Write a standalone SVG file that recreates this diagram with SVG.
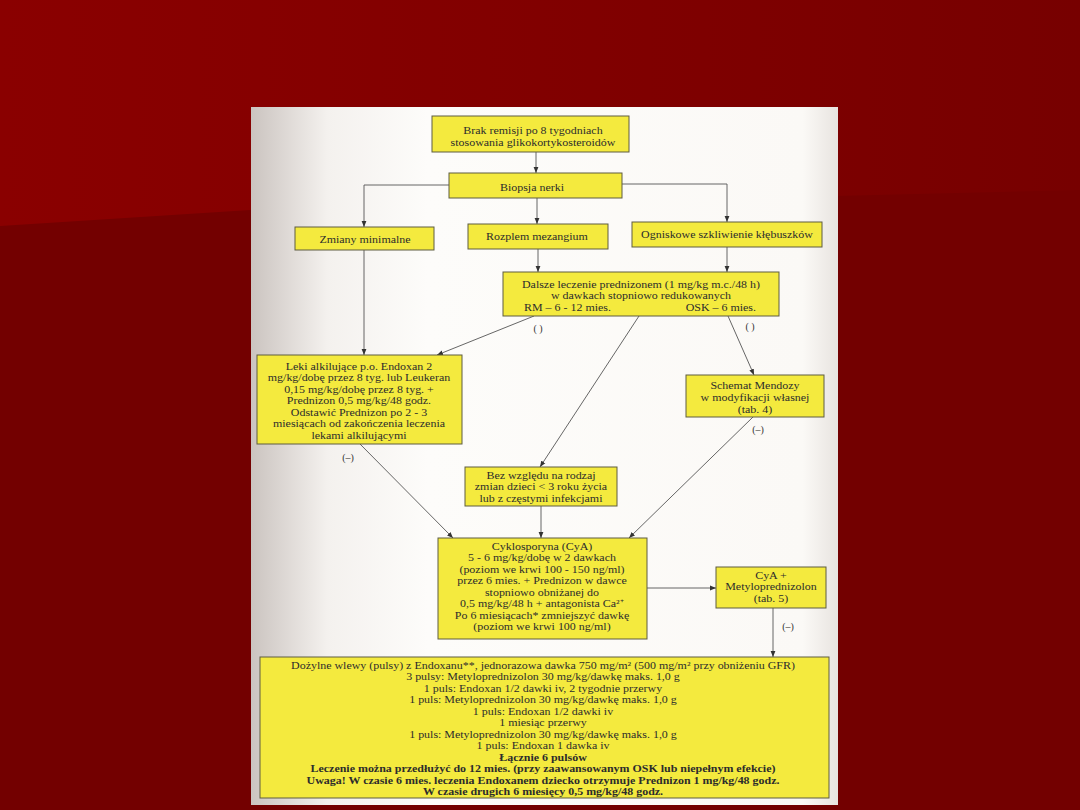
<svg xmlns="http://www.w3.org/2000/svg" width="1080" height="810" viewBox="0 0 1080 810">
<defs>
<linearGradient id="page" x1="0" y1="0" x2="1" y2="0">
<stop offset="0" stop-color="#cbc4c0"/>
<stop offset="0.13" stop-color="#f4f1ee"/>
<stop offset="0.3" stop-color="#fdfcfa"/>
<stop offset="0.94" stop-color="#fbf9f6"/>
<stop offset="1" stop-color="#e8e4e0"/>
</linearGradient>
<linearGradient id="bgtop" x1="0" y1="0" x2="1" y2="0">
<stop offset="0" stop-color="#8a0000"/>
<stop offset="0.3" stop-color="#850000"/>
<stop offset="1" stop-color="#770000"/>
</linearGradient>
<marker id="ah" viewBox="0 0 10 10" refX="10" refY="5" markerWidth="6" markerHeight="6" orient="auto" markerUnits="userSpaceOnUse">
<path d="M0,1 L10,5 L0,9 Z" fill="#333"/>
</marker>
<style>
.box{fill:#f4ea3e;stroke:#5e5c40;stroke-width:1}
.t{font-family:"Liberation Serif","Times New Roman",serif;font-size:10.4px;fill:#2c2c2c;text-anchor:middle}
.b{font-weight:bold}
.ca{fill:none;stroke:#555;stroke-width:0.9;marker-end:url(#ah)}
.lbl{font-family:"Liberation Serif","Times New Roman",serif;font-size:10px;fill:#333;text-anchor:middle}
</style>
</defs>
<rect width="1080" height="810" fill="#730000"/>
<polygon points="0,0 1080,0 1080,190 250,210 0,226" fill="url(#bgtop)"/>
<rect x="251" y="107" width="587" height="698" fill="url(#page)"/>

<g id="connectors">
<line class="ca" x1="536" y1="152" x2="536" y2="173"/>
<polyline class="ca" points="449,185 364,185 364,227"/>
<line class="ca" x1="537" y1="198" x2="537" y2="224"/>
<polyline class="ca" points="622,184 727,184 727,222"/>
<line class="ca" x1="364" y1="250" x2="364" y2="355"/>
<line class="ca" x1="538" y1="249" x2="538" y2="272"/>
<line class="ca" x1="727" y1="247" x2="727" y2="272"/>
<line class="ca" x1="534" y1="316" x2="437" y2="355"/>
<line class="ca" x1="639" y1="316" x2="540" y2="467"/>
<line class="ca" x1="728" y1="316" x2="754" y2="375"/>
<line class="ca" x1="360" y1="444" x2="453" y2="538"/>
<line class="ca" x1="753" y1="417" x2="629" y2="538"/>
<line class="ca" x1="541" y1="506" x2="541" y2="538"/>
<line class="ca" x1="647" y1="588" x2="716" y2="588"/>
<line class="ca" x1="773" y1="608" x2="773" y2="657"/>
<text class="lbl" x="538" y="332">( )</text>
<text class="lbl" x="750" y="330">( )</text>
<text class="lbl" x="348" y="461">(–)</text>
<text class="lbl" x="758" y="433">(–)</text>
<text class="lbl" x="788" y="630">(–)</text>
</g>

<g id="brak">
<rect class="box" x="432" y="116" width="197" height="36"/>
<g transform="translate(533 0) scale(1.15 1) translate(-533 0)">
<text class="t" x="533" y="134">Brak remisji po 8 tygodniach</text>
<text class="t" x="533" y="146">stosowania glikokortykosteroidów</text>
</g>
</g>
<g id="biopsja">
<rect class="box" x="449" y="173" width="173" height="25"/>
<g transform="translate(532 0) scale(1.15 1) translate(-532 0)">
<text class="t" x="532" y="191">Biopsja nerki</text>
</g>
</g>
<g id="zmiany">
<rect class="box" x="295" y="227" width="139" height="23"/>
<g transform="translate(365 0) scale(1.15 1) translate(-365 0)">
<text class="t" x="365" y="243">Zmiany minimalne</text>
</g>
</g>
<g id="rozplem">
<rect class="box" x="468" y="224" width="140" height="25"/>
<g transform="translate(537 0) scale(1.15 1) translate(-537 0)">
<text class="t" x="537" y="240">Rozplem mezangium</text>
</g>
</g>
<g id="ogniskowe">
<rect class="box" x="632" y="222" width="190" height="25"/>
<g transform="translate(727 0) scale(1.15 1) translate(-727 0)">
<text class="t" x="727" y="238">Ogniskowe szkliwienie kłębuszków</text>
</g>
</g>
<g id="dalsze">
<rect class="box" x="503" y="272" width="276" height="44"/>
<g transform="translate(641 0) scale(1.15 1) translate(-641 0)">
<text class="t" x="641" y="288">Dalsze leczenie prednizonem (1 mg/kg m.c./48 h)</text>
<text class="t" x="641" y="299.5">w dawkach stopniowo redukowanych</text>
<text class="t" x="539.3" y="311" style="text-anchor:start">RM – 6 - 12 mies.</text>
<text class="t" x="741" y="311" style="text-anchor:end">OSK – 6 mies.</text>
</g>
</g>
<g id="leki">
<rect class="box" x="257" y="355" width="205" height="89"/>
<g transform="translate(359 0) scale(1.15 1) translate(-359 0)">
<text class="t" x="359" y="370">Leki alkilujące p.o. Endoxan 2</text>
<text class="t" x="359" y="381.5">mg/kg/dobę przez 8 tyg. lub Leukeran</text>
<text class="t" x="359" y="393">0,15 mg/kg/dobę przez 8 tyg. +</text>
<text class="t" x="359" y="404.5">Prednizon 0,5 mg/kg/48 godz.</text>
<text class="t" x="359" y="416">Odstawić Prednizon po 2 - 3</text>
<text class="t" x="359" y="427.5">miesiącach od zakończenia leczenia</text>
<text class="t" x="359" y="439">lekami alkilującymi</text>
</g>
</g>
<g id="schemat">
<rect class="box" x="686" y="375" width="138" height="42"/>
<g transform="translate(755 0) scale(1.15 1) translate(-755 0)">
<text class="t" x="755" y="389">Schemat Mendozy</text>
<text class="t" x="755" y="401">w modyfikacji własnej</text>
<text class="t" x="755" y="413">(tab. 4)</text>
</g>
</g>
<g id="bez">
<rect class="box" x="465" y="467" width="152" height="39"/>
<g transform="translate(541 0) scale(1.15 1) translate(-541 0)">
<text class="t" x="541" y="479">Bez względu na rodzaj</text>
<text class="t" x="541" y="490.5">zmian dzieci &lt; 3 roku życia</text>
<text class="t" x="541" y="502">lub z częstymi infekcjami</text>
</g>
</g>
<g id="cyklosporyna">
<rect class="box" x="438" y="538" width="209" height="101"/>
<g transform="translate(542 0) scale(1.15 1) translate(-542 0)">
<text class="t" x="542" y="550">Cyklosporyna (CyA)</text>
<text class="t" x="542" y="561.5">5 - 6 mg/kg/dobę w 2 dawkach</text>
<text class="t" x="542" y="573">(poziom we krwi 100 - 150 ng/ml)</text>
<text class="t" x="542" y="584.5">przez 6 mies. + Prednizon w dawce</text>
<text class="t" x="542" y="596">stopniowo obniżanej do</text>
<text class="t" x="542" y="607.5">0,5 mg/kg/48 h + antagonista Ca²⁺</text>
<text class="t" x="542" y="619">Po 6 miesiącach* zmniejszyć dawkę</text>
<text class="t" x="542" y="630.5">(poziom we krwi 100 ng/ml)</text>
</g>
</g>
<g id="cya">
<rect class="box" x="716" y="567" width="110" height="41"/>
<g transform="translate(771 0) scale(1.15 1) translate(-771 0)">
<text class="t" x="771" y="579">CyA +</text>
<text class="t" x="771" y="590.5">Metyloprednizolon</text>
<text class="t" x="771" y="602">(tab. 5)</text>
</g>
</g>
<g id="dozylne">
<rect class="box" x="260" y="657" width="569" height="141"/>
<g transform="translate(543 0) scale(1.15 1) translate(-543 0)">
<text class="t" x="543" y="669">Dożylne wlewy (pulsy) z Endoxanu**, jednorazowa dawka 750 mg/m² (500 mg/m² przy obniżeniu GFR)</text>
<text class="t" x="543" y="680.5">3 pulsy: Metyloprednizolon 30 mg/kg/dawkę maks. 1,0 g</text>
<text class="t" x="543" y="692">1 puls: Endoxan 1/2 dawki iv, 2 tygodnie przerwy</text>
<text class="t" x="543" y="703.5">1 puls: Metyloprednizolon 30 mg/kg/dawkę maks. 1,0 g</text>
<text class="t" x="543" y="715">1 puls: Endoxan 1/2 dawki iv</text>
<text class="t" x="543" y="726.5">1 miesiąc przerwy</text>
<text class="t" x="543" y="738">1 puls: Metyloprednizolon 30 mg/kg/dawkę maks. 1,0 g</text>
<text class="t" x="543" y="749.5">1 puls: Endoxan 1 dawka iv</text>
<text class="t b" x="543" y="761">Łącznie 6 pulsów</text>
<text class="t b" x="543" y="772.5">Leczenie można przedłużyć do 12 mies. (przy zaawansowanym OSK lub niepełnym efekcie)</text>
<text class="t b" x="543" y="784">Uwaga! W czasie 6 mies. leczenia Endoxanem dziecko otrzymuje Prednizon 1 mg/kg/48 godz.</text>
<text class="t b" x="543" y="795.5">W czasie drugich 6 miesięcy 0,5 mg/kg/48 godz.</text>
</g>
</g>
</svg>
